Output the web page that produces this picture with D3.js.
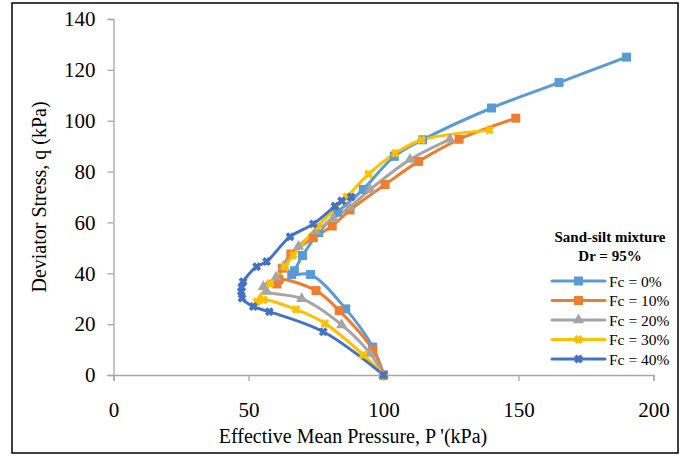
<!DOCTYPE html>
<html><head><meta charset="utf-8">
<script src="https://cdn.jsdelivr.net/npm/d3@7"></script>
<style>body{margin:0;background:#fff}svg{display:block}</style>
</head><body>
<script>
const seriesNames = ["Fc = 0%", "Fc = 10%", "Fc = 20%", "Fc = 30%", "Fc = 40%"];
const seriesColors = ["#5B9BD5", "#ED7D31", "#A5A5A5", "#FFC000", "#4472C4"];
const seriesMarkers = ["square", "square", "triangle", "star", "cross"];
const fc0P = [100, 96, 86, 73, 66, 67, 70, 76, 83, 92.5, 104, 114.5, 140, 165, 190];
const fc0Q = [0, 11, 26, 39.5, 39.5, 41, 47, 56, 64, 73, 86, 92.5, 105, 115, 125];
const fc10P = [100, 96, 83.6, 75, 61.3, 60.5, 62.5, 65.7, 74, 81, 87.6, 100.6, 113, 128, 149];
const fc10Q = [0, 10, 25.3, 33.2, 37.5, 35.8, 42, 47.6, 54, 58.6, 64.9, 74.9, 84, 92.7, 101];
const fc20P = [100, 95, 84.5, 69.7, 56.7, 55.5, 60.2, 62.9, 68.5, 75, 81.4, 87.5, 95, 109.8, 124.6];
const fc20Q = [0, 8.5, 19.7, 30, 32.8, 34.7, 38.4, 42.7, 50.5, 56.5, 61.6, 66, 72.9, 84.7, 92.7];
const fc30P = [100, 92.5, 78.3, 67.6, 55.6, 53, 58, 63.5, 66.6, 75.8, 86.4, 94.5, 104.3, 114.1, 139.2];
const fc30Q = [0, 7.9, 20.3, 25.8, 29.6, 28.8, 36, 42.6, 47.2, 58.6, 70.1, 79, 87.2, 92.4, 96.3];
const fc40P = [100, 77.7, 57.7, 51.8, 47.6, 47.3, 47.5, 48, 53, 56.7, 65.4, 74, 82, 84.5, 88];
const fc40Q = [0, 17, 24.9, 26.9, 30.2, 32.8, 34.5, 36.7, 42.6, 44.6, 54.4, 59.4, 66.4, 68.5, 70];
const xTicks = [0, 50, 100, 150, 200];
const yTicks = [0, 20, 40, 60, 80, 100, 120, 140];
const legendTitle = ["Sand-silt mixture", "Dr = 95%"];
const xTitle = "Effective Mean Pressure, P '(kPa)";
const yTitle = "Deviator Stress, q (kPa)";

const allP = [fc0P, fc10P, fc20P, fc30P, fc40P];
const allQ = [fc0Q, fc10Q, fc20Q, fc30Q, fc40Q];
const series = seriesNames.map((n, i) => ({
  name: n, color: seriesColors[i], marker: seriesMarkers[i],
  pts: allP[i].map((p, j) => ({p: p, q: allQ[i][j]}))
}));

const W = 681, H = 457;
const svg = d3.select("body").append("svg").attr("width", W).attr("height", H);
svg.append("rect").attr("x", 12).attr("y", 3).attr("width", 666).attr("height", 450)
  .attr("fill", "#fff").attr("stroke", "#000").attr("stroke-width", 1.5);

const x = d3.scaleLinear().domain([0, 200]).range([113.5, 653.5]);
const y = d3.scaleLinear().domain([0, 140]).range([375, 19]);
const font = "'Liberation Serif', 'Times New Roman', serif";

const xAxis = svg.append("g").attr("transform", `translate(0,${y(0)})`)
  .call(d3.axisBottom(x).tickValues(xTicks).tickSize(6).tickPadding(21).tickFormat(d3.format("d")));
const yAxis = svg.append("g").attr("transform", `translate(${x(0)},0)`)
  .call(d3.axisLeft(y).tickValues(yTicks).tickSize(6).tickPadding(12).tickFormat(d3.format("d")));
[xAxis, yAxis].forEach(a => {
  a.select(".domain").attr("stroke", "#a6a6a6").attr("stroke-width", 1.3);
  a.selectAll(".tick line").attr("stroke", "#a6a6a6").attr("stroke-width", 1.3);
  a.selectAll(".tick text").attr("font-family", font).attr("font-size", 21).attr("fill", "#000");
});
xAxis.selectAll(".tick text").attr("dy", "0.71em");

svg.append("text").attr("x", 353).attr("y", 443).attr("text-anchor", "middle")
  .attr("font-family", font).attr("font-size", 20).text(xTitle);
svg.append("text").attr("transform", "translate(46,197) rotate(-90)").attr("text-anchor", "middle")
  .attr("font-family", font).attr("font-size", 20).text(yTitle);

const line = d3.line().x(d => x(d.p)).y(d => y(d.q)).curve(d3.curveCatmullRom.alpha(0.5));

function drawMarker(g, type, cx, cy, color) {
  if (type === "square") {
    g.append("rect").attr("x", cx - 4.5).attr("y", cy - 4.5).attr("width", 9).attr("height", 9).attr("fill", color);
  } else if (type === "triangle") {
    g.append("path").attr("d", d3.symbol(d3.symbolTriangle, 55)()).attr("transform", `translate(${cx},${cy})`).attr("fill", color);
  } else {
    g.append("path").attr("d", d3.symbol(d3.symbolCross, 36)()).attr("transform", `translate(${cx},${cy}) rotate(45)`)
      .attr("fill", color).attr("stroke", color).attr("stroke-width", 1);
  }
}

const plot = svg.append("g");
series.forEach(s => {
  plot.append("path").datum(s.pts).attr("d", line).attr("fill", "none")
    .attr("stroke", s.color).attr("stroke-width", 3).attr("stroke-linejoin", "round");
});
series.forEach(s => {
  const g = plot.append("g");
  s.pts.forEach(d => drawMarker(g, s.marker, x(d.p), y(d.q), s.color));
});

// legend
const lg = svg.append("g");
legendTitle.forEach((t, i) => {
  lg.append("text").attr("x", 610).attr("y", 242 + i * 19).attr("text-anchor", "middle")
    .attr("font-family", font).attr("font-size", 15).attr("font-weight", "bold").text(t);
});
series.forEach((s, i) => {
  const ly = 281 + i * 19.5;
  lg.append("line").attr("x1", 552).attr("x2", 605).attr("y1", ly).attr("y2", ly)
    .attr("stroke", s.color).attr("stroke-width", 3).attr("stroke-linecap", "round");
  drawMarker(lg, s.marker, 578.5, ly, s.color);
  lg.append("text").attr("x", 609).attr("y", ly + 5.5).attr("font-family", font)
    .attr("font-size", 15.5).text(s.name);
});
</script>
</body></html>
